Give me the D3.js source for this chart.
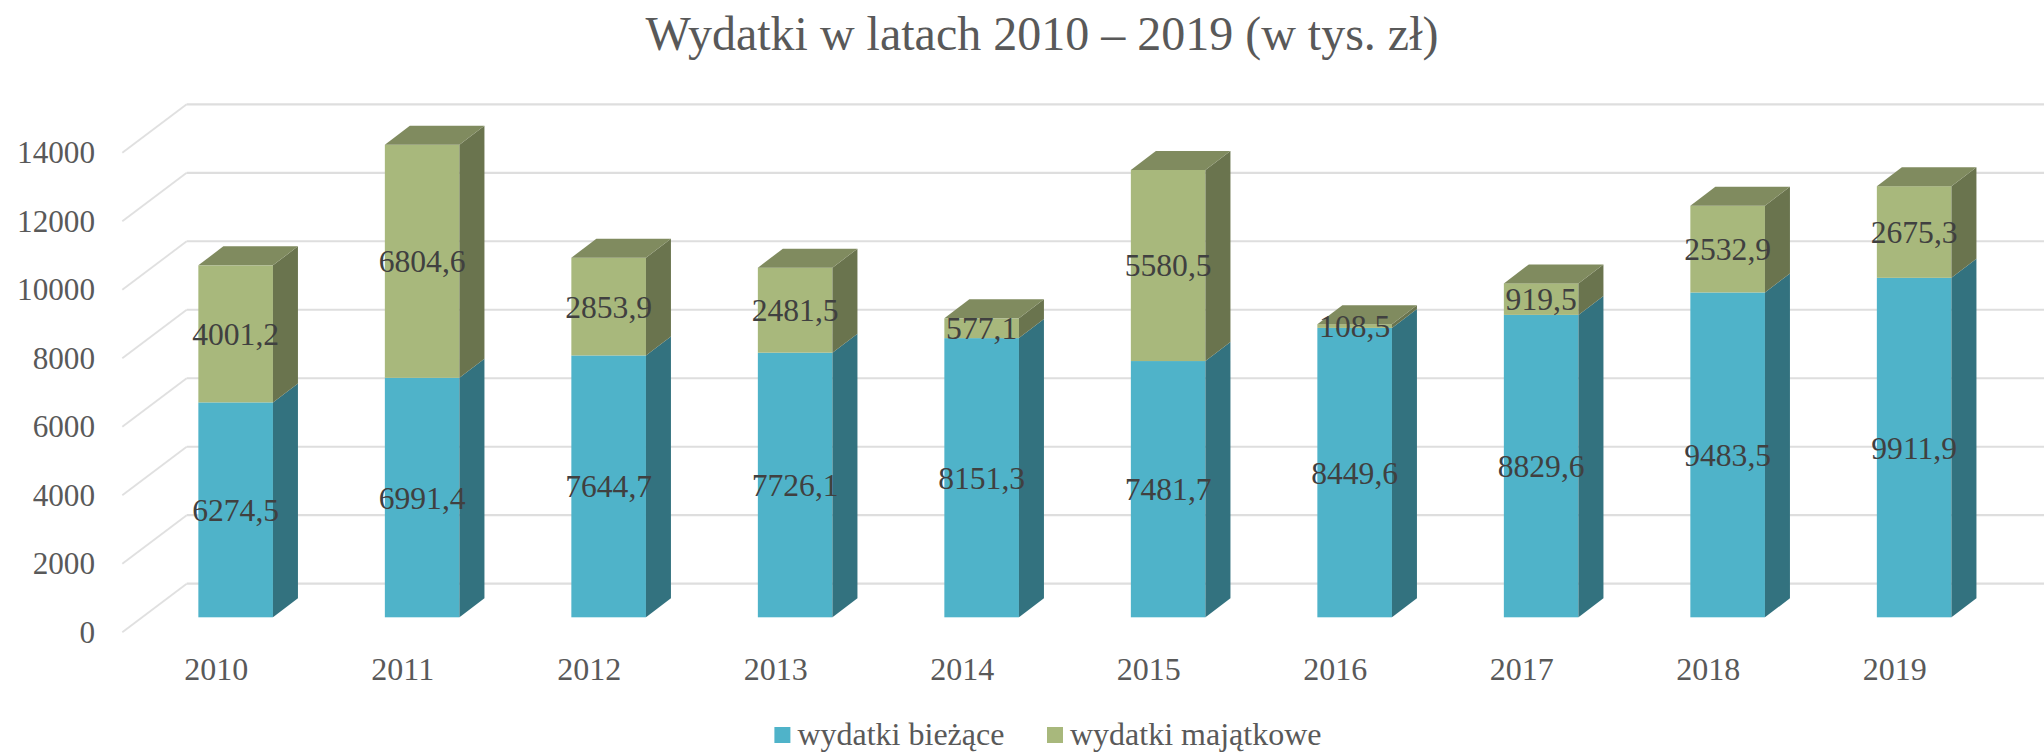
<!DOCTYPE html>
<html><head><meta charset="utf-8">
<script src="https://cdn.jsdelivr.net/npm/d3@7"></script>
<style>
html,body{margin:0;padding:0;background:#fff;overflow:hidden}
text{font-family:"Liberation Serif",serif}
</style></head><body>
<svg id="c" width="2044" height="752"></svg>
<script>
const years=["2010","2011","2012","2013","2014","2015","2016","2017","2018","2019"];
const biezace=[6274.5,6991.4,7644.7,7726.1,8151.3,7481.7,8449.6,8829.6,9483.5,9911.9];
const majatkowe=[4001.2,6804.6,2853.9,2481.5,577.1,5580.5,108.5,919.5,2532.9,2675.3];
const yTicks=[0,2000,4000,6000,8000,10000,12000,14000];
const seriesNames=["wydatki bieżące","wydatki majątkowe"];
const titleText="Wydatki w latach 2010 – 2019 (w tys. zł)";
const fmt=v=>v.toFixed(1).replace(".",",");

const W=2044,H=752;
const svg=d3.select("#c");
const AXIS="#595959",LABEL="#404040",GRID="#DEDEDE";
const C={blue:{f:"#4FB3C9",s:"#33727F"},green:{f:"#A8B87C",s:"#6A744E",t:"#808B5F"}};

// three parallel value scales: front wall plane, bar front face, back wall
const yFront=d3.scaleLinear().domain([0,14000]).range([632.3,152.7]);
const yBar=d3.scaleLinear().domain([0,14000]).range([617.3,137.8]);
const yBack=d3.scaleLinear().domain([0,14000]).range([583.7,104.3]);
const x=d3.scaleBand().domain(years).range([142.4,2007.4]).paddingInner(.6).paddingOuter(.3);
const xLabel=d3.scaleBand().domain(years).range([123,1988]);
const DX=25,DY=19,wallL=122.3,wallB=186.7;

// gridlines
svg.append("g").selectAll("path").data(yTicks).join("path")
  .attr("d",d=>`M${wallL},${yFront(d)}L${wallB},${yBack(d)}`)
  .attr("fill","none").attr("stroke","#E0E0E0").attr("stroke-width",1.8);
svg.append("g").selectAll("line").data(yTicks).join("line")
  .attr("x1",wallB).attr("x2",W).attr("y1",d=>yBack(d)).attr("y2",d=>yBack(d))
  .attr("stroke",GRID).attr("stroke-width",2.2);

// bars
const rows=years.map((y,i)=>({y,a:biezace[i],b:majatkowe[i]}));
const bar=svg.append("g").selectAll("g").data(rows).join("g");
const quad=p=>"M"+p.map(q=>q.join(",")).join("L")+"Z";
bar.each(function(d){
  const g=d3.select(this),x0=x(d.y),x1=x0+x.bandwidth();
  const y0=yBar(0),y1=yBar(d.a),y2=yBar(d.a+d.b);
  g.append("rect").attr("x",x0).attr("y",y1).attr("width",x.bandwidth()).attr("height",y0-y1).attr("fill",C.blue.f);
  g.append("path").attr("d",quad([[x1,y0],[x1+DX,y0-DY],[x1+DX,y1-DY],[x1,y1]])).attr("fill",C.blue.s);
  g.append("rect").attr("x",x0).attr("y",y2).attr("width",x.bandwidth()).attr("height",y1-y2).attr("fill",C.green.f);
  g.append("path").attr("d",quad([[x1,y1],[x1+DX,y1-DY],[x1+DX,y2-DY],[x1,y2]])).attr("fill",C.green.s);
  g.append("path").attr("d",quad([[x0,y2],[x1,y2],[x1+DX,y2-DY],[x0+DX,y2-DY]])).attr("fill",C.green.t);
});
// data labels
bar.each(function(d){
  const g=d3.select(this),cx=x(d.y)+x.bandwidth()/2;
  [[d.a,(yBar(0)+yBar(d.a))/2],[d.b,(yBar(d.a)+yBar(d.a+d.b))/2]].forEach(([v,cy])=>{
    g.append("text").attr("x",cx).attr("y",cy+11).attr("text-anchor","middle")
     .attr("font-size",31.6).attr("fill",LABEL).text(fmt(v));
  });
});

// axes
const axL=svg.append("g").attr("transform","translate(95,0)")
  .call(d3.axisLeft(yFront).tickValues(yTicks).tickFormat(d=>d).tickSize(0).tickPadding(0));
axL.select(".domain").remove();
axL.selectAll("text").attr("font-size",31.2).attr("fill",AXIS).attr("font-family","Liberation Serif")
  .attr("dy",null).attr("y",10.2);
const axB=svg.append("g").attr("transform","translate(0,680)")
  .call(d3.axisBottom(xLabel).tickSize(0).tickPadding(0));
axB.select(".domain").remove();
axB.selectAll("text").attr("font-size",32).attr("fill",AXIS).attr("font-family","Liberation Serif")
  .attr("dy",null).attr("y",0);

// title
svg.append("text").attr("x",1042).attr("y",50).attr("text-anchor","middle")
  .attr("font-size",48).attr("fill",AXIS).text(titleText);

// legend
const legX=[774.4,1047],legC=[C.blue.f,C.green.f];
const leg=svg.append("g").selectAll("g").data(seriesNames).join("g");
leg.append("rect").attr("x",(d,i)=>legX[i]).attr("y",727).attr("width",16).attr("height",16).attr("fill",(d,i)=>legC[i]);
leg.append("text").attr("x",(d,i)=>legX[i]+23).attr("y",745).attr("font-size",32).attr("fill",AXIS).text(d=>d);
</script>
</body></html>
